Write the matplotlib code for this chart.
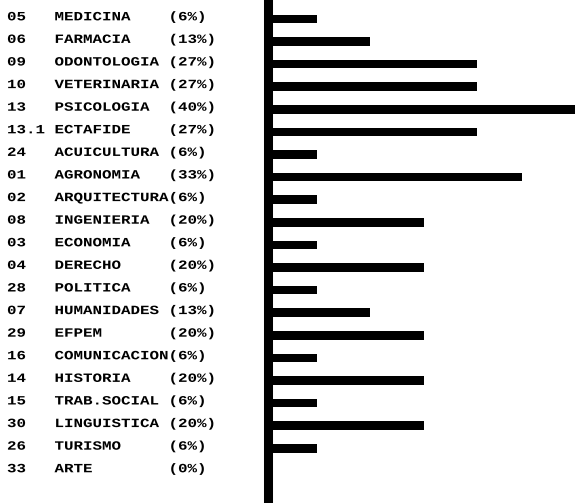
import matplotlib
matplotlib.use("Agg")
import matplotlib.pyplot as plt
import matplotlib.transforms as mtransforms
import matplotlib.patheffects as pe

codes = ["05", "06", "09", "10", "13", "13.1", "24", "01", "02", "08", "03",
         "04", "28", "07", "29", "16", "14", "15", "30", "26", "33"]
careers = ["MEDICINA", "FARMACIA", "ODONTOLOGIA", "VETERINARIA", "PSICOLOGIA",
           "ECTAFIDE", "ACUICULTURA", "AGRONOMIA", "ARQUITECTURA", "INGENIERIA",
           "ECONOMIA", "DERECHO", "POLITICA", "HUMANIDADES", "EFPEM",
           "COMUNICACION", "HISTORIA", "TRAB.SOCIAL", "LINGUISTICA", "TURISMO", "ARTE"]
percent = [6, 13, 27, 27, 40, 27, 6, 33, 6, 20, 6,
           20, 6, 13, 20, 6, 20, 6, 20, 6, 0]


class Squash(pe.AbstractPathEffect):
    """Aplasta el texto en vertical sobre la linea base."""
    def __init__(self, sy=0.8):
        super().__init__()
        self.sy = sy

    def draw_path(self, renderer, gc, tpath, affine, rgbFace=None):
        renderer.draw_path(gc, tpath, mtransforms.Affine2D().scale(1, self.sy) + affine, rgbFace)


W, H = 575, 503
fig = plt.figure(figsize=(W / 100, H / 100), dpi=100)
ax = fig.add_axes([272 / W, 0, 1 - 272 / W, 1])

rows = list(range(len(codes)))
ax.barh(rows, percent, height=0.38, color="black")
ax.set_xlim(0, 40)
ax.set_ylim(21.42, -0.84)

for side in ("top", "right", "bottom"):
    ax.spines[side].set_visible(False)
ax.spines["left"].set_linewidth(6.5)
ax.spines["left"].set_position(("outward", 3.2))
ax.set_xticks([])
ax.set_yticks([])

# etiquetas de texto a la izquierda, una sola cadena monoespaciada por fila
trans = mtransforms.blended_transform_factory(fig.transFigure, ax.transData)
for i, (c, n, p) in enumerate(zip(codes, careers, percent)):
    line = f"{c:<5}{n:<12}({p}%)"
    ax.text(7 / W, i + 0.06, line, transform=trans, ha="left", va="baseline",
            family="Liberation Mono", fontweight="bold", fontsize=11.4,
            clip_on=False, path_effects=[Squash(0.8)])

fig.savefig("out.png", dpi=100)
